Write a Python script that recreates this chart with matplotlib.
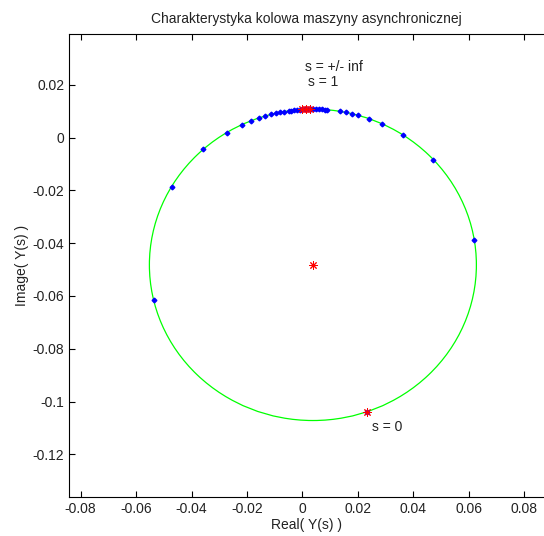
import numpy as np
import matplotlib
matplotlib.use('Agg')
import matplotlib.pyplot as plt
from matplotlib.patches import Circle

plt.rcParams['font.family'] = ['Liberation Sans', 'DejaVu Sans']

# circle of the machine (center, radius)
center = (0.0038, -0.0482)
radius = 0.059

# points Y(s) for successive slips
pts_re = [-0.0536, -0.0471, -0.0358, -0.0273, -0.0219, -0.0186, -0.0157, -0.0135, -0.0114,
          -0.0095, -0.008, -0.0065, -0.005, -0.004, -0.003, -0.002, -0.001, 0.0,
          0.001, 0.002, 0.003, 0.004, 0.005, 0.006, 0.007, 0.008, 0.009,
          0.0136, 0.0156, 0.0178, 0.0202, 0.0240, 0.0286, 0.0362, 0.0471, 0.0620, 0.0233]
pts_im = [-0.0617, -0.0186, -0.00446, 0.00194, 0.00491, 0.00638, 0.00749, 0.00821, 0.00881,
          0.00928, 0.00961, 0.00989, 0.01014, 0.01028, 0.01041, 0.01051, 0.01060, 0.01068,
          0.01073, 0.01077, 0.01079, 0.0108, 0.01079, 0.01076, 0.01071, 0.01065, 0.01057,
          0.00998, 0.00961, 0.00912, 0.00847, 0.00723, 0.00534, 0.00111, -0.0085, -0.0387, -0.1039]

# characteristic points: s = +/- inf, s = 1, center, s = 0
star_re = [0.0, 0.0012, 0.0028, 0.0038, 0.0233]
star_im = [0.0107, 0.0107, 0.0108, -0.0482, -0.1039]

labels = ['s = +/- inf', 's = 1', 's = 0']
label_re = [0.0010, 0.0020, 0.0251]
label_im = [0.0268, 0.0210, -0.1097]

fig = plt.figure(figsize=(5.44, 5.36), dpi=100)
ax = fig.add_axes([0.1274, 0.0722, 0.8726, 0.8644])

ax.add_patch(Circle(center, radius, fill=False, edgecolor=(0, 1, 0), linewidth=0.9))
ax.plot(pts_re, pts_im, linestyle='none', marker='D', markersize=2.4,
        markerfacecolor='b', markeredgecolor='b')
ax.plot(star_re, star_im, linestyle='none', marker=(8, 2, 0), markersize=6,
        markeredgecolor='r', markeredgewidth=0.7)
for t, x, y in zip(labels, label_re, label_im):
    ax.text(x, y, t, fontsize=10, va='center', ha='left', color='#222222')

ax.set_xlim(-0.0841, 0.0872)
ax.set_ylim(-0.1363, 0.0393)
ax.set_xticks(np.arange(-0.08, 0.081, 0.02))
ax.set_yticks(np.arange(-0.12, 0.021, 0.02))
ax.set_xticklabels(['-0.08', '-0.06', '-0.04', '-0.02', '0', '0.02', '0.04', '0.06', '0.08'])
ax.set_yticklabels(['-0.12', '-0.1', '-0.08', '-0.06', '-0.04', '-0.02', '0', '0.02'])
ax.tick_params(direction='in', length=4, top=True, labelsize=10, width=0.8,
               labelcolor='#222222')
for sp in ax.spines.values():
    sp.set_linewidth(0.8)
ax.spines['right'].set_visible(False)

ax.set_title('Charakterystyka kolowa maszyny asynchronicznej', fontsize=10, pad=8,
             color='#222222')
ax.set_xlabel('Real( Y(s) )', fontsize=10, labelpad=1, color='#222222')
ax.set_ylabel('Image( Y(s) )', fontsize=10, labelpad=3, color='#222222')

fig.savefig('out.png', dpi=100)
